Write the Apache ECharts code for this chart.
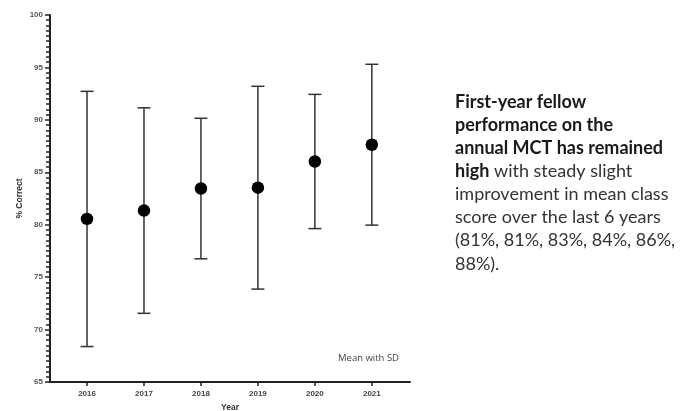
<!DOCTYPE html>
<html><head><meta charset="utf-8">
<script src="https://cdn.jsdelivr.net/npm/echarts@6/dist/echarts.min.js"></script>
<style>html,body{margin:0;padding:0;background:#fff}#c{width:686px;height:411px}</style>
</head><body><div id="c"></div>
<script>
var years = [2016, 2017, 2018, 2019, 2020, 2021];
var means = [80.55, 81.35, 83.45, 83.53, 86.03, 87.63];
var sds = [12.17, 9.8, 6.7, 9.67, 6.4, 7.67];
var yTicks = [65, 70, 75, 80, 85, 90, 95, 100];

var chart = echarts.init(document.getElementById('c'), null, {renderer: 'canvas'});
var errData = years.map(function (y, i) { return [y, means[i] - sds[i], means[i] + sds[i]]; });
var ptData = years.map(function (y, i) { return [y, means[i]]; });

chart.setOption({
  animation: false,
  grid: {left: 50, right: 276, top: 15, bottom: 29, containLabel: false, outerBoundsMode: 'none'},
  xAxis: {
    type: 'value', min: 2015.35, max: 2021.67,
    name: 'Year', nameLocation: 'middle', nameGap: 21, nameMoveOverlap: false,
    nameTextStyle: {fontSize: 8.5, fontWeight: 'bold', color: '#333', fontFamily: 'Liberation Sans'},
    axisLine: {show: true, lineStyle: {color: '#222', width: 2}},
    axisTick: {show: true, customValues: years, length: 4, lineStyle: {color: '#222', width: 1.5}},
    axisLabel: {customValues: years, fontSize: 8, fontWeight: 'bold', color: '#444', margin: 8, fontFamily: 'Liberation Sans',
      formatter: function (v) { return String(Math.round(v)); }},
    splitLine: {show: false}
  },
  yAxis: [{
    type: 'value', min: yTicks[0], max: yTicks[yTicks.length - 1], interval: 5,
    name: '% Correct', nameLocation: 'middle', nameGap: 26, nameMoveOverlap: false,
    nameTextStyle: {fontSize: 8.5, fontWeight: 'bold', color: '#333', fontFamily: 'Liberation Sans'},
    axisLine: {show: true, lineStyle: {color: '#222', width: 2}},
    axisTick: {show: true, length: 5, lineStyle: {color: '#222', width: 1.5}},
    axisLabel: {fontSize: 8, fontWeight: 'bold', color: '#555', margin: 7, fontFamily: 'Liberation Sans'},
    splitLine: {show: false}
  }, {
    type: 'value', position: 'left', min: yTicks[0], max: yTicks[yTicks.length - 1], interval: 0.5,
    axisLine: {show: false},
    axisTick: {show: true, length: 4, lineStyle: {color: '#222', width: 1.5}},
    axisLabel: {show: false},
    splitLine: {show: false}
  }],
  series: [
    {
      type: 'custom',
      data: errData,
      z: 2,
      renderItem: function (params, api) {
        var x = api.value(0);
        var lo = api.coord([x, api.value(1)]);
        var hi = api.coord([x, api.value(2)]);
        var hw = 6.5;
        var st = {stroke: '#333', lineWidth: 1.5, fill: null};
        return {
          type: 'group',
          children: [
            {type: 'line', shape: {x1: lo[0], y1: lo[1], x2: hi[0], y2: hi[1]}, style: st},
            {type: 'line', shape: {x1: lo[0] - hw, y1: lo[1], x2: lo[0] + hw, y2: lo[1]}, style: st},
            {type: 'line', shape: {x1: hi[0] - hw, y1: hi[1], x2: hi[0] + hw, y2: hi[1]}, style: st}
          ]
        };
      }
    },
    {
      type: 'scatter', data: ptData, symbol: 'circle', symbolSize: 12.5, z: 3,
      itemStyle: {color: '#000', opacity: 1}
    }
  ],
  graphic: [
    {
      type: 'text', left: 338, top: 353,
      style: {text: 'Mean with SD', fontSize: 9.5, fill: '#444', fontFamily: 'Open Sans'}
    },
    {
      type: 'text', left: 455, top: 93,
      style: {
        text: '{b|First-year fellow}\n{b|performance on the}\n{b|annual MCT has remained}\n{b|high}{n| with steady slight}\n{n|improvement in mean class}\n{n|score over the last 6 years}\n{n|(81%, 81%, 83%, 84%, 86%,}\n{n|88%).}',
        fill: '#222',
        rich: {
          b: {fontSize: 18, fontWeight: 'bold', fontFamily: 'Lato', lineHeight: 23.1, fill: '#1a1a1a'},
          n: {fontSize: 18, fontFamily: 'Lato', lineHeight: 23.1, fill: '#333'}
        }
      }
    }
  ]
});
</script></body></html>
